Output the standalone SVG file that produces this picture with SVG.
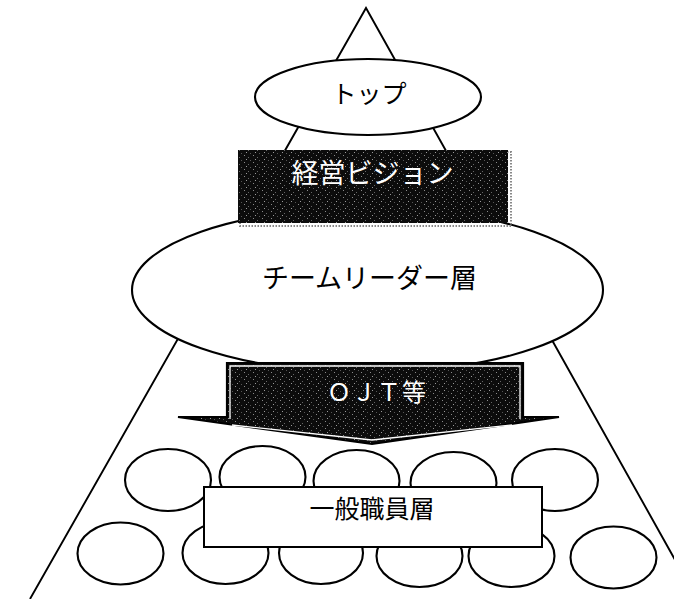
<svg xmlns="http://www.w3.org/2000/svg" width="674" height="599" viewBox="0 0 674 599">
<defs>
<pattern id="noise" width="9" height="7" patternUnits="userSpaceOnUse">
<rect width="9" height="7" fill="#0c0c0c"/>
<rect x="1" y="1" width="1" height="1" fill="#8a8a8a"/>
<rect x="5" y="3" width="1" height="1" fill="#666"/>
<rect x="3" y="5" width="1" height="1" fill="#9a9a9a"/>
<rect x="7" y="6" width="1" height="1" fill="#555"/>
</pattern>
<style>
.ln{fill:none;stroke:#000;stroke-width:1.9}
.el{fill:#fff;stroke:#000;stroke-width:2.1}
.jp{font-family:"Noto Sans CJK JP","Noto Sans CJK SC",sans-serif;text-anchor:middle}
.dk{fill:#fff}
.bk{fill:#000}
</style>
</defs>
<rect width="674" height="599" fill="#fff"/>
<g id="pyramid">
<polyline class="ln" points="30,599 366,8 697,599"/>
</g>
<g id="team-leader">
<ellipse class="el" cx="367.5" cy="290" rx="235.5" ry="82.5"/>
<text class="jp bk" x="369.5" y="288" font-size="27">チームリーダー層</text>
</g>
<g id="top">
<ellipse class="el" cx="368" cy="97" rx="113" ry="38"/>
<text class="jp bk" x="369" y="103" font-size="25">トップ</text>
</g>
<g id="vision">
<rect x="240" y="152" width="271" height="74" fill="none" stroke="#888" stroke-width="2" stroke-dasharray="1.5 1.5"/>
<rect x="238" y="150" width="270" height="73" fill="url(#noise)"/>
<text class="jp dk" x="372.5" y="183" font-size="27">経営ビジョン</text>
</g>
<g id="connectors">
<polygon points="227,363 523,363 523,417 559,417 372,444 178,417 227,417" fill="url(#noise)" stroke="#000" stroke-width="2.2"/>
<polyline points="230,419 230,366 520,366 520,419" fill="none" stroke="#fff" stroke-width="1.3"/>
<polyline points="232,425 372,440 512,425" fill="none" stroke="#fff" stroke-width="1.3"/>
<text class="jp dk" x="377" y="401" font-size="24" letter-spacing="1">ＯＪＴ等</text>
</g>
<g id="staff-members">
<ellipse class="el" cx="168" cy="480" rx="43" ry="31"/>
<ellipse class="el" cx="262.5" cy="477" rx="43" ry="31"/>
<ellipse class="el" cx="356.5" cy="481" rx="43" ry="31"/>
<ellipse class="el" cx="453.5" cy="483" rx="43" ry="31"/>
<ellipse class="el" cx="555" cy="480" rx="43" ry="31"/>
<ellipse class="el" cx="120.5" cy="553.5" rx="43" ry="31"/>
<ellipse class="el" cx="225.5" cy="553" rx="43" ry="31"/>
<ellipse class="el" cx="321" cy="553" rx="42" ry="31"/>
<ellipse class="el" cx="419.5" cy="556" rx="43" ry="31"/>
<ellipse class="el" cx="511.5" cy="556" rx="43" ry="31"/>
<ellipse class="el" cx="613.5" cy="557.5" rx="43" ry="31"/>
</g>
<g id="general-staff">
<rect x="204" y="487" width="338" height="60" fill="#fff" stroke="#000" stroke-width="2"/>
<text class="jp bk" x="372" y="518" font-size="25">一般職員層</text>
</g>
</svg>
